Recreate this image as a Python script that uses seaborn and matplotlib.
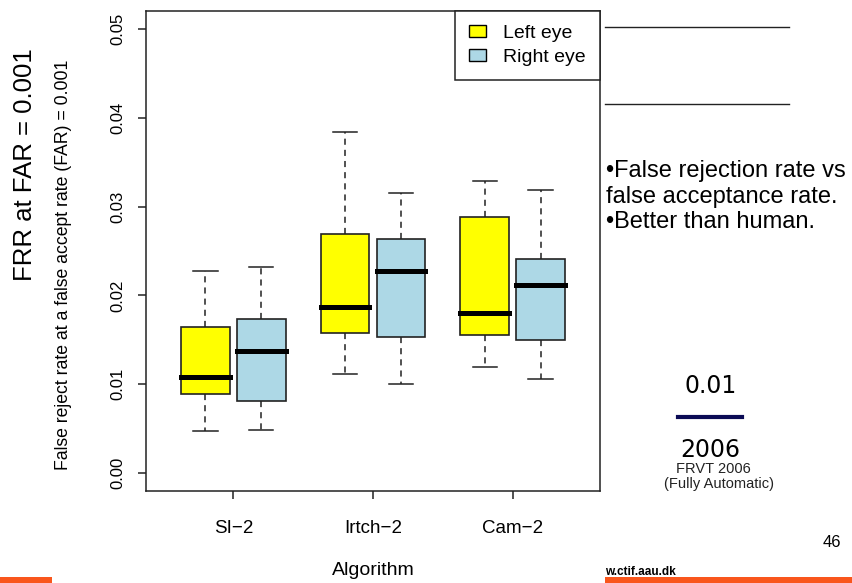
import numpy as np
import pandas as pd
import matplotlib
matplotlib.use("Agg")
import matplotlib.pyplot as plt
import seaborn as sns
from matplotlib.lines import Line2D
from matplotlib.patches import Rectangle

# ---- data ----
algorithms = ["SI\u22122", "Irtch\u22122", "Cam\u22122"]
eyes = ["Left eye", "Right eye"]
# five-number summaries per algorithm: [lower whisker, Q1, median, Q3, upper whisker]
left_eye_stats = [
    [0.0047, 0.0089, 0.0108, 0.0165, 0.0228],
    [0.0112, 0.0158, 0.0187, 0.0269, 0.0384],
    [0.0119, 0.0155, 0.0180, 0.0288, 0.0329],
]
right_eye_stats = [
    [0.0049, 0.0081, 0.0138, 0.0173, 0.0232],
    [0.0100, 0.0153, 0.0228, 0.0263, 0.0315],
    [0.0106, 0.0150, 0.0212, 0.0241, 0.0319],
]
eye_colors = {"Left eye": "#FFFF00", "Right eye": "#ADD8E6"}
y_ticks = [0.00, 0.01, 0.02, 0.03, 0.04, 0.05]
y_tick_labels = ["0.00", "0.01", "0.02", "0.03", "0.04", "0.05"]

rows = []
for i, alg in enumerate(algorithms):
    for v in left_eye_stats[i]:
        rows.append((alg, "Left eye", v))
    for v in right_eye_stats[i]:
        rows.append((alg, "Right eye", v))
df = pd.DataFrame(rows, columns=["Algorithm", "Eye", "FRR"])

plt.rcParams["font.family"] = ["Liberation Sans", "DejaVu Sans"]

W, H = 852, 583
fig = plt.figure(figsize=(W / 100, H / 100), dpi=100)
fig.patch.set_facecolor("white")
ax = fig.add_axes([146 / W, 1 - 491 / H, 454 / W, 480 / H])

sns.boxplot(
    data=df, x="Algorithm", y="FRR", hue="Eye",
    order=algorithms, hue_order=eyes, palette=eye_colors,
    saturation=1, width=0.8, gap=0.13, whis=(0, 100),
    linecolor="#222222", linewidth=1.2, showfliers=False,
    medianprops=dict(color="black", linewidth=3.6, solid_capstyle="projecting"),
    whiskerprops=dict(color="#222222", linewidth=1.1, linestyle=(0, (4.0, 3.3))),
    capprops=dict(color="#222222", linewidth=1.1),
    ax=ax,
)

ax.set_xlim(-0.625, 2.625)
ax.set_ylim(-0.002, 0.052)
ax.set_facecolor("white")
for s in ax.spines.values():
    s.set_color("#222222")
    s.set_linewidth(1.1)

ax.set_yticks(y_ticks)
ax.set_yticklabels(y_tick_labels, rotation=90, va="center")
ax.tick_params(axis="y", direction="out", length=6, width=1.1, pad=9,
               labelsize=12, color="#222222")
ax.tick_params(axis="x", direction="out", length=6, width=1.1, pad=15,
               labelsize=13.5, color="#222222")

ax.set_xlabel("Algorithm", fontsize=14)
ax.xaxis.set_label_coords(0.5, -0.148)
ax.set_ylabel("False reject rate at a false accept rate (FAR) = 0.001", fontsize=12.7)
ax.yaxis.set_label_coords(-0.163, 0.471)

# legend (R style)
old = ax.get_legend()
handles = old.legend_handles
labels = [t.get_text() for t in old.get_texts()]
for h in handles:
    h.set_edgecolor("black")
    h.set_linewidth(1.0)
old.remove()
leg = ax.legend(handles, labels, loc="upper right", borderaxespad=0,
                fontsize=14, frameon=True, fancybox=False, shadow=False,
                borderpad=0.72, labelspacing=0.36, handlelength=0.85,
                handleheight=0.6, handletextpad=0.9)
leg.get_frame().set_edgecolor("#222222")
leg.get_frame().set_linewidth(1.1)
leg.get_frame().set_alpha(1)

# ---- slide decorations ----
def fx(x):
    return x / W

def fy(y):
    return 1 - y / H

fig.text(fx(25), fy(165), "FRR at FAR = 0.001", rotation=90, ha="center",
         va="center", fontsize=18.5)

for yy in (27, 104):
    fig.add_artist(Line2D([fx(605), fx(789)], [fy(yy), fy(yy)],
                          color="#222222", linewidth=1.0))

fig.text(fx(606), fy(177), "\u2022False rejection rate vs", fontsize=17,
         ha="left", va="baseline")
fig.text(fx(606), fy(203), "false acceptance rate.", fontsize=17,
         ha="left", va="baseline")
fig.text(fx(606), fy(228), "\u2022Better than human.", fontsize=17,
         ha="left", va="baseline")

fig.text(fx(711), fy(393), "0.01", fontsize=17, ha="center", va="baseline",
         family="DejaVu Sans")
fig.add_artist(Line2D([fx(678), fx(742)], [fy(417), fy(417)],
                      color="#0b0b55", linewidth=3))
fig.text(fx(710), fy(457), "2006", fontsize=17, ha="center", va="baseline",
         family="DejaVu Sans")
fig.text(fx(713), fy(473), "FRVT 2006", fontsize=10.5, ha="center", va="baseline",
         color="#222222")
fig.text(fx(719), fy(488), "(Fully Automatic)", fontsize=10.5, ha="center",
         va="baseline", color="#222222")

fig.text(fx(832), fy(547), "46", fontsize=12, ha="center", va="baseline")
fig.text(fx(605), fy(575), "w.ctif.aau.dk", fontsize=8.5, fontweight="bold",
         ha="left", va="baseline")

fig.add_artist(Rectangle((0, 0), fx(52), 6 / H, transform=fig.transFigure,
                         facecolor="#F9561C", edgecolor="none"))
fig.add_artist(Rectangle((fx(605), 0), 1 - fx(605), 6 / H,
                         transform=fig.transFigure, facecolor="#F9561C",
                         edgecolor="none"))

fig.savefig("out.png", dpi=100, facecolor="white")
